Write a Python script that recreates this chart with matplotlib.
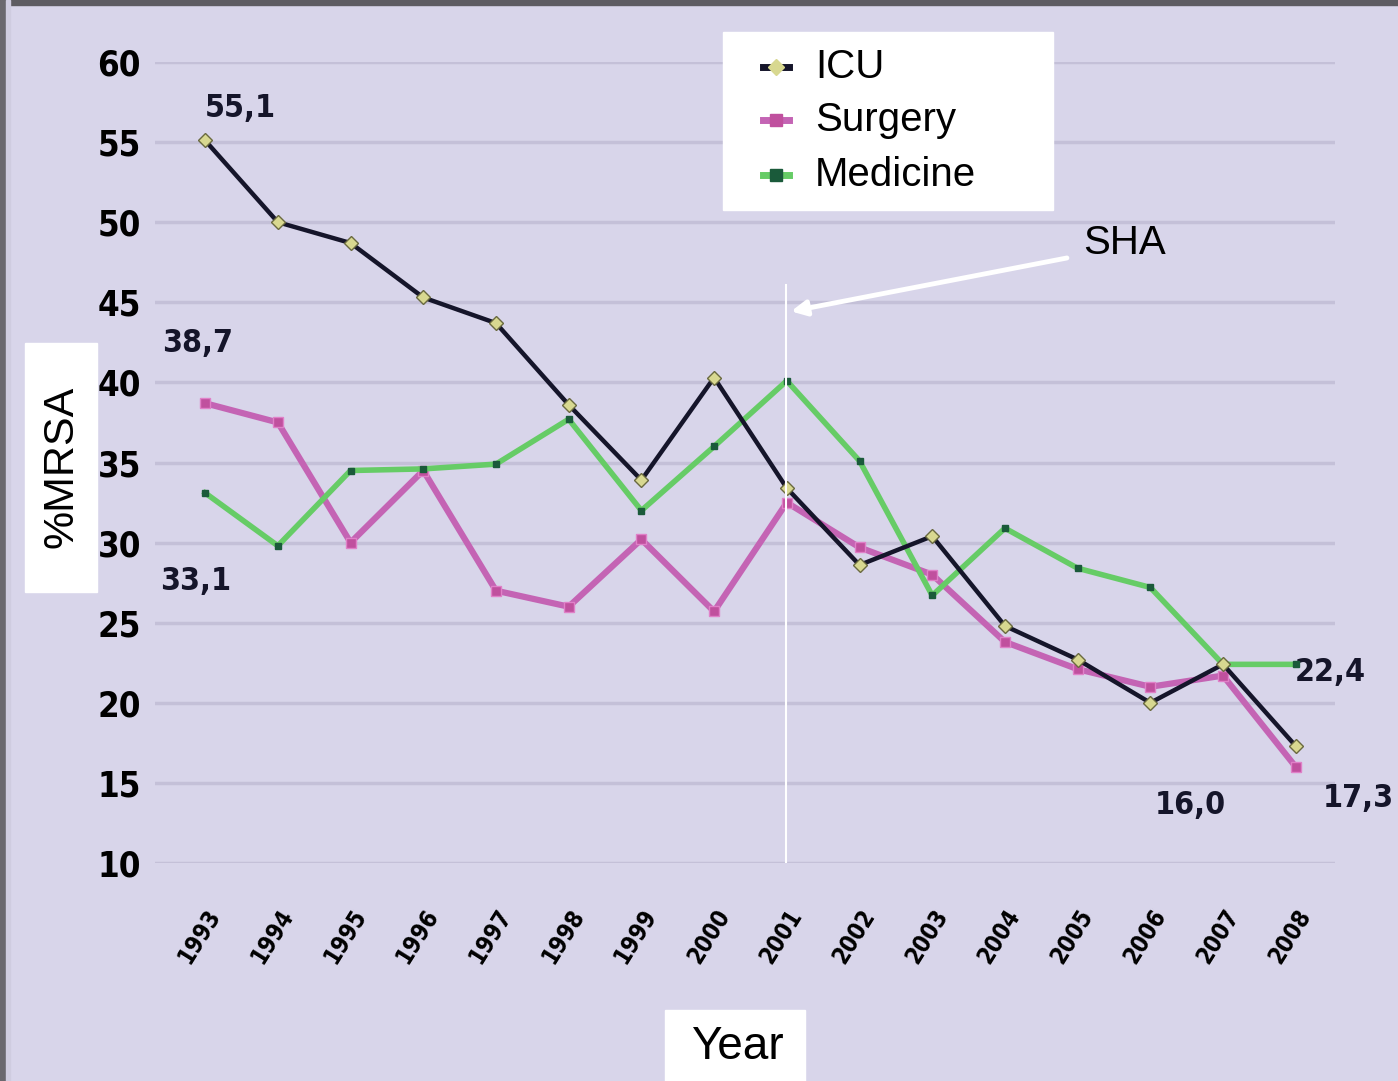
import numpy as np
import matplotlib
matplotlib.use('Agg')
import matplotlib.pyplot as plt
from matplotlib.patches import Rectangle

years = ['1993', '1994', '1995', '1996', '1997', '1998', '1999', '2000',
         '2001', '2002', '2003', '2004', '2005', '2006', '2007', '2008']
icu = [55.1, 50.0, 48.7, 45.3, 43.7, 38.6, 33.9, 40.3,
       33.4, 28.6, 30.4, 24.8, 22.7, 20.0, 22.4, 17.3]
surgery = [38.7, 37.5, 30.0, 34.5, 27.0, 26.0, 30.2, 25.7,
           32.5, 29.7, 28.0, 23.8, 22.1, 21.0, 21.7, 16.0]
medicine = [33.1, 29.8, 34.5, 34.6, 34.9, 37.7, 32.0, 36.0,
            40.1, 35.1, 26.7, 30.9, 28.4, 27.2, 22.4, 22.4]
yticks = [10, 15, 20, 25, 30, 35, 40, 45, 50, 55, 60]

bg = '#d8d5ea'
narrow = ['DejaVu Sans']
plain = ['Liberation Sans', 'DejaVu Sans']

W, H = 1398, 1081
fig = plt.figure(figsize=(W / 100, H / 100), dpi=100)
fig.patch.set_facecolor(bg)

# gray frame on top and left
fig.add_artist(Rectangle((0, 1 - 5 / H), 1, 5 / H, transform=fig.transFigure, color='#5e5c62', zorder=0))
fig.add_artist(Rectangle((0, 0), 6 / W, 1, transform=fig.transFigure, color='#6a686e', zorder=0))
fig.add_artist(Rectangle((6 / W, 0), 4 / W, 1, transform=fig.transFigure, color='#cfcce0', zorder=0))

ax = fig.add_axes([155 / W, 1 - 863 / H, (1335 - 155) / W, (863 - 62) / H])
ax.set_facecolor(bg)
x = np.arange(len(years))

ax.set_ylim(10, 60)
ax.set_xlim(-0.69, 15.54)
ax.set_yticks(yticks)
ax.set_yticklabels([str(v) for v in yticks], family=narrow, fontweight='bold',
                   fontstretch='condensed', fontsize=25)
ax.set_xticks(x)
ax.set_xticklabels(years, rotation=58, ha='right', va='top', rotation_mode='anchor',
                   family=narrow, fontweight='bold', fontstretch='condensed', fontsize=17)
ax.tick_params(axis='y', length=0, pad=10)
ax.tick_params(axis='x', length=0, pad=30)
for s in ax.spines.values():
    s.set_visible(False)
ax.grid(axis='y', color='#c4c0d8', lw=2.5)
ax.set_axisbelow(True)

ax.plot(x, surgery, color='#c464b4', lw=4.5, marker='s', ms=7, mfc='#c0509e', mec='#e080c8', zorder=3)
ax.plot(x, medicine, color='#66cc66', lw=4, marker='s', ms=5, mfc='#1a5a3a', mec='#1a5a3a', zorder=4)
ax.plot(x, icu, color='#15152a', lw=3.2, marker='D', ms=7, mfc='#d8d890', mec='#6a6a40', zorder=5)

# value labels
lbl = dict(family=narrow, fontweight='bold', fontstretch='condensed', fontsize=23,
           color='#15152a', ha='center', va='center')
ax.text(0.48, 57.1, '55,1', **lbl)
ax.text(-0.1, 42.4, '38,7', **lbl)
ax.text(-0.13, 27.6, '33,1', **lbl)
ax.text(15.47, 21.9, '22,4', **lbl)
ax.text(13.55, 13.6, '16,0', **lbl)
ax.text(15.86, 14.0, '17,3', **lbl, clip_on=False)

# SHA marker line and arrow
ax.plot([7.99, 7.99], [10, 46.1], color='white', lw=1.5, zorder=6)
ax.annotate('', xy=(8.02, 44.4), xytext=(11.89, 47.8),
            arrowprops=dict(arrowstyle='-|>,head_length=0.9,head_width=0.45', color='white', lw=3.5),
            zorder=7)
fig.text(1125 / W, 1 - 243 / H, 'SHA', family=plain, fontsize=29, ha='center', va='center')

# legend box
fig.add_artist(Rectangle((723 / W, 1 - 210 / H), 330 / W, 178 / H, transform=fig.transFigure,
                         color='white', zorder=8))
leg_items = [('ICU', 67, '#15152a', '#d8d890', 'D'), ('Surgery', 120, '#c464b4', '#c0509e', 's'),
             ('Medicine', 175, '#66cc66', '#1a5a3a', 's')]
for name, yy, lc, mc, mk in leg_items:
    yf = 1 - yy / H
    fig.add_artist(plt.Line2D([763 / W, 776 / W, 789 / W], [yf, yf, yf], transform=fig.transFigure,
                              color=lc, lw=5, marker=mk, ms=8, markevery=[1],
                              mfc=mc, mec=mc, zorder=9))
    fig.text(815 / W, yf, name, family=plain, fontsize=29, ha='left', va='center', zorder=10)

# axis titles in white boxes
fig.add_artist(Rectangle((25 / W, 1 - 592 / H), 72 / W, 249 / H, transform=fig.transFigure,
                         color='white', zorder=8))
fig.text(62 / W, 1 - 467 / H, '%MRSA', family=plain, fontsize=31, rotation=90,
         ha='center', va='center', zorder=9)
fig.add_artist(Rectangle((665 / W, 0), 140 / W, 71 / H, transform=fig.transFigure,
                         color='white', zorder=8))
fig.text(737 / W, 1 - 1047 / H, 'Year', family=plain, fontsize=33, ha='center', va='center', zorder=9)

fig.savefig('out.png', dpi=100, facecolor=bg)
